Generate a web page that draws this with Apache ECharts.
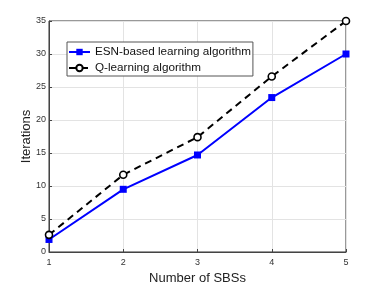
<!DOCTYPE html>
<html><head><meta charset="utf-8">
<script src="https://cdn.jsdelivr.net/npm/echarts@6/dist/echarts.min.js"></script>
<style>html,body{margin:0;padding:0;background:#fff}#c{width:382px;height:286px}</style>
</head><body><div id="c"></div>
<script>
const categories = [1, 2, 3, 4, 5];
const esnValues = [1.9, 9.5, 14.7, 23.4, 30];
const qValues = [2.6, 11.7, 17.4, 26.6, 35];
const yTicks = [0, 5, 10, 15, 20, 25, 30, 35];
const seriesNames = ['ESN-based learning algorithm', 'Q-learning algorithm'];

const chart = echarts.init(document.getElementById('c'), null, {renderer: 'canvas'});
const font = 'Liberation Sans, Arial, sans-serif';
chart.setOption({
  animation: false,
  grid: {left: 49, right: 36, top: 21, bottom: 34, show: true, borderColor: '#333', borderWidth: 1,
    containLabel: false, outerBoundsMode: 'none'},
  xAxis: {
    type: 'value', min: 1, max: 5, interval: 1,
    name: 'Number of SBSs', nameLocation: 'middle', nameGap: 20, nameMoveOverlap: false,
    nameTextStyle: {fontFamily: font, fontSize: 13, color: '#222'},
    axisLine: {show: true, onZero: false, lineStyle: {color: '#444'}},
    axisTick: {show: true, inside: true, length: 3, lineStyle: {color: '#444'}},
    axisLabel: {fontFamily: font, fontSize: 9, color: '#333', margin: 6},
    splitLine: {show: true, lineStyle: {color: '#e3e3e3'}}
  },
  yAxis: {
    type: 'value', min: 0, max: 35, interval: 5,
    name: 'Iterations', nameLocation: 'middle', nameGap: 16, nameMoveOverlap: false,
    nameTextStyle: {fontFamily: font, fontSize: 13, color: '#222'},
    axisLine: {show: true, lineStyle: {color: '#444'}},
    axisTick: {show: true, inside: true, length: 3, lineStyle: {color: '#444'}},
    axisLabel: {fontFamily: font, fontSize: 9, color: '#333', margin: 3,
      formatter: v => yTicks.includes(v) ? String(v) : ''},
    splitLine: {show: true, lineStyle: {color: '#e3e3e3'}}
  },
  legend: {
    orient: 'vertical', left: 67, top: 42,
    backgroundColor: '#fff', borderColor: '#555', borderWidth: 1, borderRadius: 0,
    padding: [4, 2, 2, 1], itemGap: 4, itemWidth: 21, itemHeight: 8,
    textStyle: {fontFamily: font, fontSize: 11.7, color: '#111'},
    data: seriesNames
  },
  series: [
    {
      name: seriesNames[0], type: 'line',
      data: categories.map((c, i) => [c, esnValues[i]]),
      lineStyle: {color: '#0000ff', width: 2},
      itemStyle: {color: '#0000ff'},
      symbol: 'rect', symbolSize: 7
    },
    {
      name: seriesNames[1], type: 'line',
      data: categories.map((c, i) => [c, qValues[i]]),
      lineStyle: {color: '#000', width: 2, type: [7, 5]},
      itemStyle: {color: '#fff', borderColor: '#000', borderWidth: 1.6},
      symbol: 'circle', symbolSize: 7
    }
  ]
});
</script></body></html>
